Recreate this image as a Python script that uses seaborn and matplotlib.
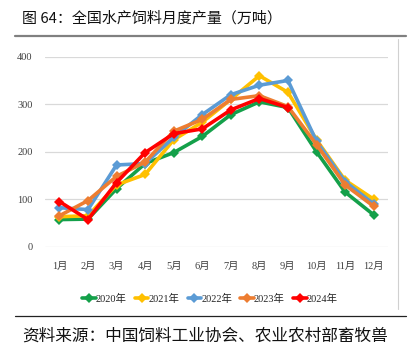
import matplotlib.pyplot as plt
import pandas as pd
import seaborn as sns
from matplotlib.lines import Line2D

# --- Data (万吨) ---
MONTHS = ["1月", "2月", "3月", "4月", "5月", "6月", "7月", "8月", "9月", "10月", "11月", "12月"]
Y2020 = [57, 58, 122, 175, 198, 232, 278, 305, 293, 200, 115, 67]
Y2021 = [63, 65, 130, 152, 225, 262, 310, 360, 325, 225, 140, 100]
Y2022 = [82, 78, 172, 175, 230, 278, 320, 340, 350, 222, 137, 90]
Y2023 = [65, 97, 148, 178, 243, 268, 310, 318, 295, 215, 130, 85]
Y2024 = [95, 57, 135, 198, 238, 248, 288, 312, 293]

SERIES = {"2020年": Y2020, "2021年": Y2021, "2022年": Y2022, "2023年": Y2023, "2024年": Y2024}
COLORS = {"2020年": "#14a04a", "2021年": "#ffc000", "2022年": "#5b9bd5",
          "2023年": "#ed7d31", "2024年": "#ff0000"}

rows = []
for year, vals in SERIES.items():
    for i, v in enumerate(vals):
        rows.append({"month": i, "value": v, "year": year})
df = pd.DataFrame(rows)

sns.set_style("white")
plt.rcParams["font.family"] = ["Liberation Serif", "Noto Sans CJK SC", "DejaVu Sans"]
CJK = ["Noto Sans CJK SC", "DejaVu Sans"]
MIXED = ["Liberation Serif", "Noto Sans CJK SC"]

fig = plt.figure(figsize=(4.14, 3.59), dpi=100)
ax = fig.add_axes([0.109, 0.313, 0.828, 0.529])

sns.lineplot(data=df, x="month", y="value", hue="year", palette=COLORS,
             marker="D", markersize=5.5, markeredgewidth=0, linewidth=2.6,
             legend=False, ax=ax)

ax.set_xlim(-0.5, 11.5)
ax.set_ylim(0, 400)
ax.set_yticks([0, 100, 200, 300, 400])
ax.set_xticks(range(12))
ax.set_xticklabels(MONTHS, family=MIXED, fontsize=7.5, color="#404040")
for lab in ax.get_yticklabels():
    lab.set_fontsize(7.5)
    lab.set_color("#404040")
ax.tick_params(axis="x", length=0, pad=11)
ax.tick_params(axis="y", length=0, pad=9)
ax.grid(axis="y", color="#d9d9d9", linewidth=0.9)
ax.set_axisbelow(True)
for s in ax.spines.values():
    s.set_visible(False)
ax.set_xlabel("")
ax.set_ylabel("")

handles = [Line2D([0], [0], color=c, linewidth=2.6, marker="D", markersize=5.5,
                  markeredgewidth=0) for c in COLORS.values()]
fig.legend(handles, list(COLORS.keys()), loc="center", bbox_to_anchor=(0.507, 0.167),
           ncol=5, frameon=False, prop={"family": MIXED, "size": 7.5},
           handlelength=1.3, handletextpad=0.0, columnspacing=0.8)

# title, source and frame lines
fig.text(0.053, 0.948, "图 64：全国水产饲料月度产量（万吨）", family=CJK,
         fontsize=10.8, va="center", ha="left", color="#111111")
fig.text(0.053, 0.064, "资料来源：中国饲料工业协会、农业农村部畜牧兽", family=CJK,
         fontsize=12, va="center", ha="left", color="#111111")
fig.add_artist(Line2D([0.036, 0.98], [0.899, 0.899], color="#808080", linewidth=1.6))
fig.add_artist(Line2D([0.036, 0.98], [0.12, 0.12], color="#222222", linewidth=0.9))
fig.add_artist(Line2D([0.961, 0.961], [0.14, 0.89], color="#d0d0d0", linewidth=0.8))

fig.savefig("out.png", dpi=100)
